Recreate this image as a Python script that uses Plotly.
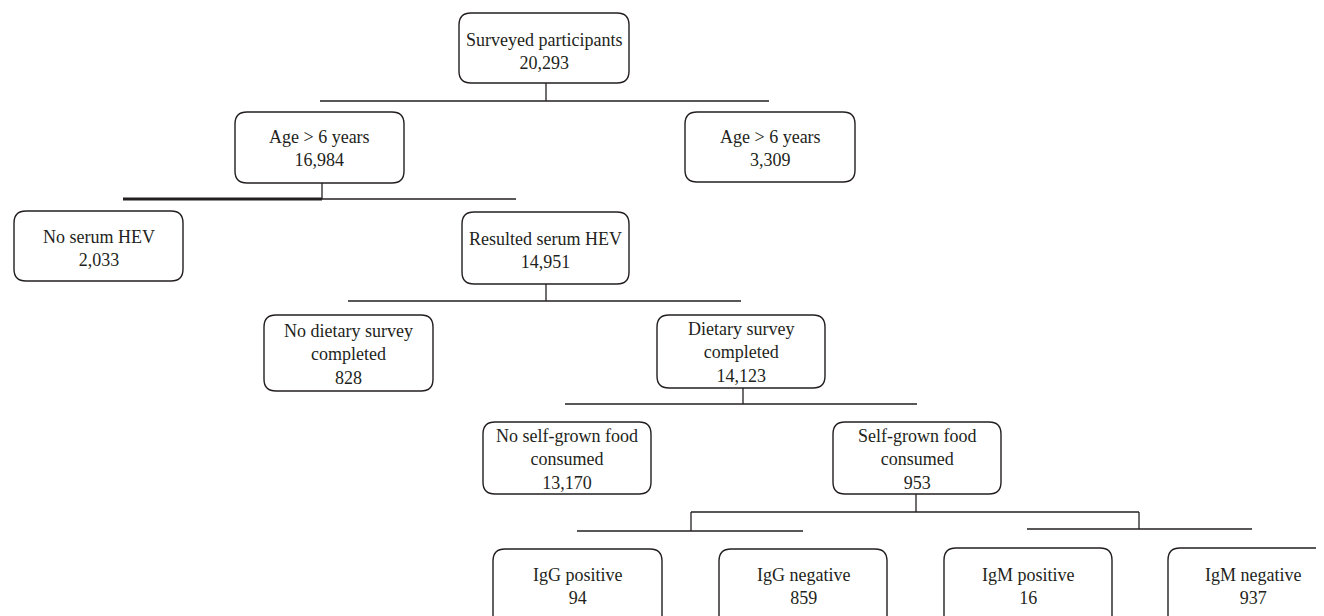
import plotly.graph_objects as go

# ---- data ----
node_labels = [
    "Surveyed participants",
    "Age > 6 years",
    "Age > 6 years",
    "No serum HEV",
    "Resulted serum HEV",
    "No dietary survey<br>completed",
    "Dietary survey<br>completed",
    "No self-grown food<br>consumed",
    "Self-grown food<br>consumed",
    "IgG positive",
    "IgG negative",
    "IgM positive",
    "IgM negative",
]
node_counts = [20293, 16984, 3309, 2033, 14951, 828, 14123, 13170, 953, 94, 859, 16, 937]
# parent index of each node (tree structure)
node_parent = [None, 0, 0, 1, 1, 4, 4, 6, 6, 8, 8, 8, 8]

# ---- layout (pixel geometry) ----
W, H = 1324, 616
PAGE_OFF = 8  # browser default body margin
boxes = [
    (459, 13, 629, 83),
    (235, 112, 404, 183),
    (685, 112, 855, 182),
    (14, 211, 183, 281),
    (462, 212, 629, 284),
    (264, 315, 433, 391),
    (657, 315, 825, 388),
    (483, 422, 651, 494),
    (833, 422, 1001, 494),
    (493, 549, 662, 640),
    (719, 549, 887, 640),
    (944, 548, 1112, 640),
    (1168, 548, 1370, 640),
]
text_x = [544, 319.5, 770, 98.5, 545.5, 348.5, 741, 567, 917, 577.5, 803, 1028, 1253]
text_y = [51, 148, 148, 248, 250, 354, 352, 459, 459, 586, 586, 586, 586]

# connector segments: (x0, y0, x1, y1, width)
connectors = [
    (546, 83, 546, 101, 1.3), (320, 101, 769, 101, 1.3),
    (322, 183, 322, 199, 1.3), (123, 199, 322, 199, 3.0), (322, 199, 516, 199, 1.3),
    (546, 284, 546, 301, 1.3), (348, 301, 741, 301, 1.3),
    (743, 388, 743, 404, 1.3), (565, 404, 917, 404, 1.3),
    (916, 494, 916, 512, 1.3), (691, 512, 1139, 512, 1.3),
    (691, 512, 691, 531, 1.3), (577, 531, 803, 531, 1.3),
    (1139, 512, 1139, 529, 1.3), (1027, 529, 1252, 529, 1.3),
]

LINE = "#231f20"
FONT = "Liberation Serif"


def rounded_rect(x0, y0, x1, y1, r=12):
    return (
        f"M {x0 + r},{y0} L {x1 - r},{y0} Q {x1},{y0} {x1},{y0 + r} "
        f"L {x1},{y1 - r} Q {x1},{y1} {x1 - r},{y1} "
        f"L {x0 + r},{y1} Q {x0},{y1} {x0},{y1 - r} "
        f"L {x0},{y0 + r} Q {x0},{y0} {x0 + r},{y0} Z"
    )


fig = go.Figure()
shapes = []
for (x0, y0, x1, y1) in boxes:
    shapes.append(dict(type="path", path=rounded_rect(x0, y0, x1, y1),
                       xref="x", yref="y", line=dict(color=LINE, width=1.4),
                       fillcolor="white", layer="above"))
for (x0, y0, x1, y1, w) in connectors:
    shapes.append(dict(type="line", x0=x0, y0=y0, x1=x1, y1=y1, xref="x", yref="y",
                       line=dict(color=LINE, width=w), layer="below"))

annotations = []
for i, (lab, cnt) in enumerate(zip(node_labels, node_counts)):
    annotations.append(dict(
        x=text_x[i], y=text_y[i], xref="x", yref="y",
        text=f"{lab}<br>{cnt:,}", showarrow=False, align="center",
        xanchor="center", yanchor="middle",
        font=dict(family=FONT, size=18, color=LINE),
    ))

fig.update_layout(
    width=W, height=H,
    margin=dict(l=0, r=0, t=0, b=0),
    paper_bgcolor="white", plot_bgcolor="white",
    xaxis=dict(range=[PAGE_OFF, W + PAGE_OFF], visible=False, fixedrange=True),
    yaxis=dict(range=[H + PAGE_OFF, PAGE_OFF], visible=False, fixedrange=True),
    shapes=shapes, annotations=annotations, showlegend=False,
)
fig.write_html("out.html", config={"displayModeBar": False})
